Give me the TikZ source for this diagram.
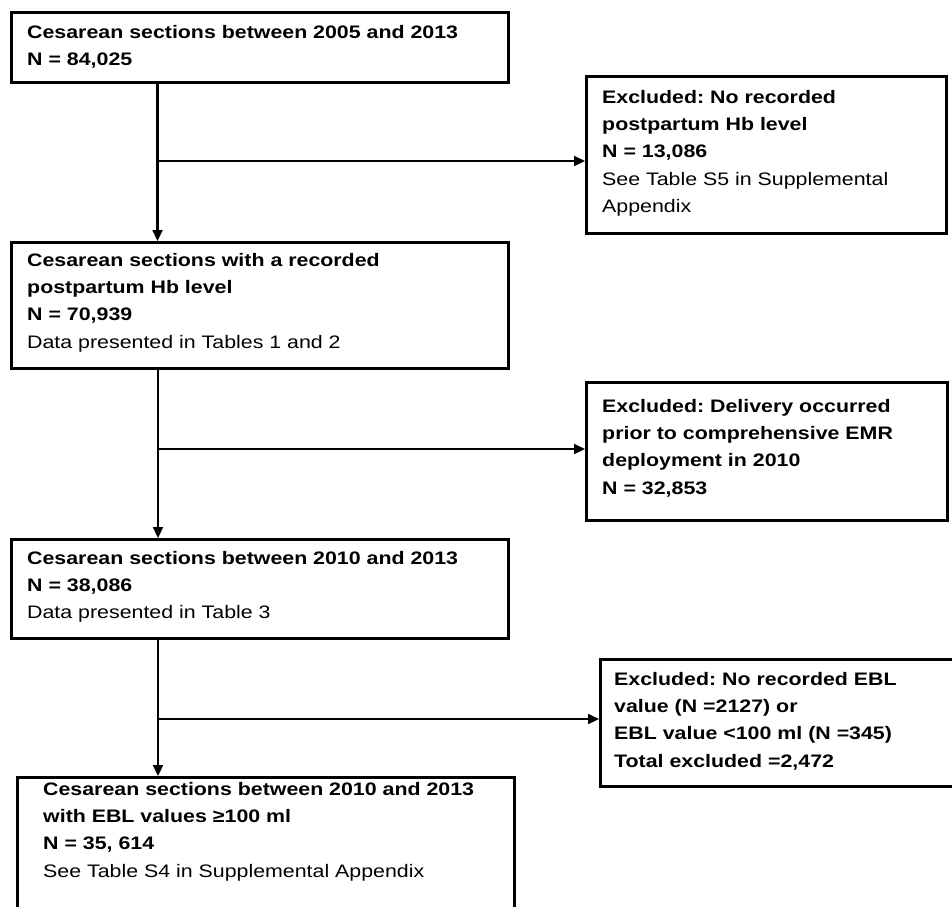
\documentclass[tikz,border=0pt]{standalone}
\usepackage{fontspec}
\setmainfont{Liberation Sans}[FakeStretch=1.18]
\usetikzlibrary{arrows.meta}
\frenchspacing
\begin{document}
\begin{tikzpicture}[x=1pt,y=-1pt,
  box/.style={draw, line width=2.8pt, anchor=north west, inner sep=0pt},
  txt/.style={anchor=north west, inner sep=0pt, align=left,
    font=\fontsize{18.1pt}{27.3pt}\selectfont},
  arr/.style={line width=2.2pt, -{Triangle[length=11pt,width=10pt]}}]
\clip (0,0) rectangle (952,906);
\fill[white] (0,0) rectangle (952,906);
% main boxes
\node[box, minimum width=497pt, minimum height=70pt] (b1) at (10,11) {};
\node[box, minimum width=497pt, minimum height=126pt] (b2) at (10,241) {};
\node[box, minimum width=497pt, minimum height=99pt] (b3) at (10,538) {};
\node[box, minimum width=497pt, minimum height=180pt] (b4) at (16,776) {};
% exclusion boxes
\node[box, minimum width=360pt, minimum height=157pt] (e1) at (585,75) {};
\node[box, minimum width=361pt, minimum height=138pt] (e2) at (585,381) {};
\node[box, minimum width=400pt, minimum height=127pt] (e3) at (599,658) {};
% texts
\node[txt] (t1) at (27,24.7) {\textbf{Cesarean sections between 2005 and 2013}\\\textbf{N = 84,025}};
\node[txt] (t2) at (27,253.0) {\textbf{Cesarean sections with a recorded}\\\textbf{postpartum Hb level}\\\textbf{N = 70,939}\\Data presented in Tables 1 and 2};
\node[txt] (t3) at (27,551.0) {\textbf{Cesarean sections between 2010 and 2013}\\\textbf{N = 38,086}\\Data presented in Table 3};
\node[txt] (t4) at (43,782.0) {\textbf{Cesarean sections between 2010 and 2013}\\\textbf{with EBL values ≥100 ml}\\\textbf{N = 35, 614}\\See Table S4 in Supplemental Appendix};
\node[txt] (u1) at (602,90.0) {\textbf{Excluded: No recorded}\\\textbf{postpartum Hb level}\\\textbf{N = 13,086}\\See Table S5 in Supplemental\\Appendix};
\node[txt] (u2) at (602,399.0) {\textbf{Excluded: Delivery occurred}\\\textbf{prior to comprehensive EMR}\\\textbf{deployment in 2010}\\\textbf{N = 32,853}};
\node[txt] (u3) at (614,672.0) {\textbf{Excluded: No recorded EBL}\\\textbf{value (N =2127) or}\\\textbf{EBL value <100 ml (N =345)}\\\textbf{Total excluded =2,472}};
% junctions
\coordinate (j1) at (157.5,161);
\coordinate (j2) at (158,449);
\coordinate (j3) at (158,719);
% connectors
\draw[arr] (b1.south -| j1) -- (b2.north -| j1);
\draw[arr] (j1) -- (e1.west |- j1);
\draw[arr] (b2.south -| j2) -- (b3.north -| j2);
\draw[arr] (j2) -- (e2.west |- j2);
\draw[arr] (b3.south -| j3) -- (b4.north -| j3);
\draw[arr] (j3) -- (e3.west |- j3);
\end{tikzpicture}
\end{document}
